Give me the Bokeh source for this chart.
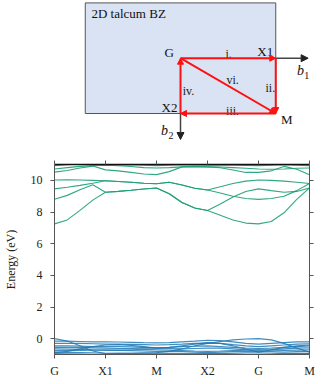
from bokeh.plotting import figure
from bokeh.layouts import column
from bokeh.models import Range1d, LinearAxis, FixedTicker, ColumnDataSource, Arrow, NormalHead
from bokeh.core.properties import value
from bokeh.embed import file_html
from bokeh.resources import INLINE

# ---------------- band structure data ----------------
kpath_labels = ["G", "X1", "M", "X2", "G", "M"]
kpath_pos = [0, 1, 2, 3, 4, 5]
energy_ticks = [0, 2, 4, 6, 8, 10]
k = [0, 0.25, 0.5, 0.75, 1, 1.25, 1.5, 1.75, 2, 2.25, 2.5, 2.75, 3,
     3.25, 3.5, 3.75, 4, 4.25, 4.5, 4.75, 5]

cond_1 = [7.25, 7.5, 8.1, 8.75, 9.25, 9.3, 9.37, 9.45, 9.52, 9.15, 8.6, 8.25, 8.09,
          7.8, 7.5, 7.3, 7.25, 7.4, 7.95, 8.8, 9.52]
cond_2 = [8.8, 9.05, 9.4, 9.72, 9.25, 9.3, 9.37, 9.45, 9.52, 9.15, 8.6, 8.25, 8.09,
          8.5, 8.95, 9.3, 9.46, 9.35, 9.25, 9.3, 9.52]
cond_3 = [9.46, 9.56, 9.68, 9.82, 9.97, 9.93, 9.88, 9.82, 9.78, 9.88, 9.7, 9.5, 9.39,
          9.6, 9.8, 9.95, 10.02, 10.0, 9.95, 9.88, 9.8]
cond_4 = [10.02, 10.03, 10.02, 10.0, 9.97, 9.93, 9.88, 9.82, 9.78, 9.88, 9.7, 9.5, 9.39,
          9.2, 9.0, 8.85, 8.8, 8.85, 9.0, 9.35, 9.8]
cond_5 = [10.52, 10.62, 10.78, 10.9, 10.66, 10.6, 10.5, 10.4, 10.36, 10.55, 10.85, 10.88, 10.85,
          10.8, 10.65, 10.5, 10.5, 10.6, 10.88, 10.7, 10.36]
cond_6 = [10.72, 10.8, 10.88, 10.93, 10.95, 10.92, 10.87, 10.8, 10.78, 10.8, 10.85, 10.86, 10.85,
          10.84, 10.8, 10.76, 10.72, 10.7, 10.72, 10.76, 10.78]
cond_7 = [10.93, 10.98, 11.05, 11.05, 10.97, 10.97, 10.98, 10.96, 10.93, 10.95, 10.98, 10.97, 10.95,
          10.96, 10.95, 10.94, 10.93, 10.96, 10.98, 10.96, 10.93]

val_1 = [0.0, -0.15, -0.45, -0.78, -0.95, -0.93, -0.92, -0.9, -0.88, -0.8, -0.65, -0.45, -0.3,
         -0.18, -0.08, -0.02, 0.0, -0.08, -0.3, -0.6, -0.85]
val_2 = [-0.15, -0.16, -0.18, -0.2, -0.2, -0.21, -0.23, -0.25, -0.26, -0.25, -0.2, -0.16, -0.1,
         -0.12, -0.2, -0.3, -0.35, -0.3, -0.25, -0.2, -0.2]
val_3 = [-0.3, -0.3, -0.3, -0.32, -0.35, -0.35, -0.36, -0.38, -0.4, -0.38, -0.35, -0.3, -0.28,
         -0.3, -0.38, -0.45, -0.5, -0.45, -0.4, -0.35, -0.32]
val_4 = [-0.45, -0.46, -0.47, -0.5, -0.5, -0.5, -0.52, -0.55, -0.58, -0.55, -0.5, -0.48, -0.45,
         -0.5, -0.55, -0.6, -0.62, -0.6, -0.55, -0.5, -0.45]
val_5 = [-0.55, -0.55, -0.56, -0.58, -0.6, -0.62, -0.62, -0.6, -0.6, -0.62, -0.65, -0.62, -0.6,
         -0.6, -0.65, -0.7, -0.72, -0.7, -0.65, -0.6, -0.58]
val_6 = [-0.65, -0.66, -0.68, -0.7, -0.72, -0.72, -0.7, -0.68, -0.7, -0.72, -0.75, -0.78, -0.8,
         -0.78, -0.75, -0.72, -0.7, -0.72, -0.74, -0.72, -0.7]
val_7 = [-0.75, -0.75, -0.74, -0.73, -0.72, -0.74, -0.76, -0.78, -0.8, -0.8, -0.82, -0.85, -0.88,
         -0.85, -0.82, -0.8, -0.8, -0.82, -0.85, -0.82, -0.8]
val_8 = [-0.85, -0.86, -0.88, -0.9, -0.92, -0.93, -0.93, -0.92, -0.92, -0.93, -0.95, -0.95, -0.95,
         -0.94, -0.92, -0.9, -0.9, -0.92, -0.94, -0.93, -0.92]
val_9 = [-0.95, -0.96, -0.98, -1.0, -1.02, -1.0, -0.98, -0.97, -0.98, -1.0, -1.02, -1.0, -0.98,
         -0.97, -0.98, -1.0, -1.0, -1.0, -0.98, -0.96, -0.95]
val_10 = [-0.9, -0.8, -0.65, -0.5, -0.4, -0.38, -0.42, -0.5, -0.6, -0.55, -0.45, -0.35, -0.25,
          -0.3, -0.45, -0.65, -0.85, -0.7, -0.55, -0.45, -0.4]

conduction = [cond_1, cond_2, cond_3, cond_4, cond_5, cond_6, cond_7]
valence = [val_1, val_2, val_3, val_4, val_5, val_6, val_7, val_8, val_9, val_10]

# ---------------- Brillouin-zone sketch data ----------------
bz_names = ["G", "X1", "M", "X2"]
bz_x = [0, 1, 1, 0]
bz_y = [0, 0, 1, 1]
bz_bounds = [-1, 1, -1, 1]          # left, right, top, bottom
path_from = ["G", "X1", "M", "X2", "G"]
path_to = ["X1", "M", "X2", "G", "M"]
path_names = ["i.", "ii.", "iii.", "iv.", "vi."]
b1_tip = [1.34, 0]
b2_tip = [0, 1.47]

FONT = "Liberation Serif"
W = 332
BL, BR = 52, 23       # shared left/right borders so both frames line up

# ---------------- top: BZ sketch ----------------
top = figure(width=W, height=150, x_range=Range1d(-1.3229, 1.3542),
             y_range=Range1d(1.669, -1.0434), x_axis_type=None, y_axis_type=None,
             output_backend="svg", toolbar_location=None, min_border=0,
             min_border_left=BL, min_border_right=BR, outline_line_color=None)
top.grid.visible = False

top.quad(left=[bz_bounds[0]], right=[bz_bounds[1]], top=[bz_bounds[2]], bottom=[bz_bounds[3]],
         fill_color="#dae3f3", line_color="#555555", line_width=1)

pos = {n: (x, y) for n, x, y in zip(bz_names, bz_x, bz_y)}

# reciprocal axes b1, b2
ax_src = ColumnDataSource(dict(x0=[pos["X1"][0], pos["X2"][0]], y0=[pos["X1"][1], pos["X2"][1]],
                               x1=[b1_tip[0], b2_tip[0]], y1=[b1_tip[1], b2_tip[1]]))
top.add_layout(Arrow(source=ax_src, x_start="x0", y_start="y0", x_end="x1", y_end="y1",
                     line_color="#444444", line_width=1.5,
                     end=NormalHead(size=7, fill_color="#222222", line_color="#222222")))

# k-path arrows
pa = ColumnDataSource(dict(x0=[pos[a][0] for a in path_from], y0=[pos[a][1] for a in path_from],
                           x1=[pos[b][0] for b in path_to], y1=[pos[b][1] for b in path_to]))
top.add_layout(Arrow(source=pa, x_start="x0", y_start="y0", x_end="x1", y_end="y1",
                     line_color="#ff1010", line_width=2,
                     end=NormalHead(size=6, fill_color="#ff1010", line_color="#ff1010")))

# point labels (offsets from the points, in sketch units)
pt_off = {"G": (-0.12, -0.10), "X1": (-0.11, -0.12), "M": (0.115, 0.108), "X2": (-0.115, -0.11)}
top.text(x=[pos[n][0] + pt_off[n][0] for n in bz_names],
         y=[pos[n][1] + pt_off[n][1] for n in bz_names], text=bz_names,
         text_font=value(FONT), text_font_size="13px", text_color="#111111",
         text_align="center", text_baseline="middle")

seg_off = [(0.005, -0.085), (-0.057, 0.03), (0.047, -0.045), (0.083, 0.093), (0.047, -0.097)]
mx = [(pos[a][0] + pos[b][0]) / 2 + o[0] for a, b, o in zip(path_from, path_to, seg_off)]
my = [(pos[a][1] + pos[b][1]) / 2 + o[1] for a, b, o in zip(path_from, path_to, seg_off)]
top.text(x=mx, y=my, text=path_names, text_font=value(FONT), text_font_size="12px",
         text_color="#222222", text_align="center", text_baseline="middle")

# b1, b2 labels
top.text(x=[b1_tip[0] - 0.08, b2_tip[0] - 0.167], y=[b1_tip[1] + 0.23, b2_tip[1] - 0.154],
         text=["b", "b"], text_font=value(FONT), text_font_style="italic",
         text_font_size="14px", text_color="#111111", text_align="center", text_baseline="middle")
top.text(x=[b1_tip[0] - 0.015, b2_tip[0] - 0.10], y=[b1_tip[1] + 0.304, b2_tip[1] - 0.08],
         text=["1", "2"], text_font=value(FONT), text_font_size="10px", text_color="#111111",
         text_align="center", text_baseline="middle")

top.text(x=[bz_bounds[0] + 0.065], y=[bz_bounds[2] + 0.19], text=["2D talcum BZ"],
         text_font=value(FONT), text_font_size="13px", text_color="#111111",
         text_align="left", text_baseline="middle")

# ---------------- bottom: band structure ----------------
p = figure(width=W, height=234, x_range=Range1d(kpath_pos[0], kpath_pos[-1]),
           y_range=Range1d(-1, 11), output_backend="svg", toolbar_location=None,
           min_border_left=BL, min_border_right=BR, min_border_top=14, min_border_bottom=30,
           outline_line_color=None)
p.grid.visible = False

for band in conduction:
    p.line(k, band, line_color="#1b9e77", line_width=1.1, line_alpha=0.9)
for band in valence:
    p.line(k, band, line_color="#1f78b4", line_width=1.2, line_alpha=0.85)

AX = "#555555"
p.xaxis.ticker = FixedTicker(ticks=kpath_pos)
p.xaxis.major_label_overrides = {kp: lab for kp, lab in zip(kpath_pos, kpath_labels)}
p.yaxis.ticker = FixedTicker(ticks=energy_ticks)
p.yaxis.axis_label = "Energy (eV)"
for ax in p.xaxis + p.yaxis:
    ax.axis_line_color = AX
    ax.major_tick_line_color = AX
    ax.major_tick_in = 0
    ax.major_tick_out = 4
    ax.minor_tick_line_color = None
    ax.major_label_text_font = FONT
    ax.major_label_text_font_size = "12px"
    ax.major_label_text_color = "#222222"
p.xaxis.major_label_standoff = 5
p.yaxis.major_label_standoff = 8
p.yaxis.axis_label_text_font = FONT
p.yaxis.axis_label_text_font_style = "normal"
p.yaxis.axis_label_text_font_size = "12px"
p.yaxis.axis_label_text_color = "#222222"
p.yaxis.axis_label_standoff = 10

for loc, tick, lc, lw in (("above", kpath_pos, "#111111", 1.5), ("right", energy_ticks, AX, 1)):
    a = LinearAxis(ticker=FixedTicker(ticks=tick), major_label_text_font_size="0px",
                   major_label_text_color=None,
                   major_label_standoff=0, major_tick_in=0, major_tick_out=4,
                   axis_line_color=lc, axis_line_width=lw,
                   major_tick_line_color=AX, minor_tick_line_color=None)
    p.add_layout(a, loc)

layout = column(top, p, spacing=0)
open("out.html", "w").write(file_html(layout, INLINE))
